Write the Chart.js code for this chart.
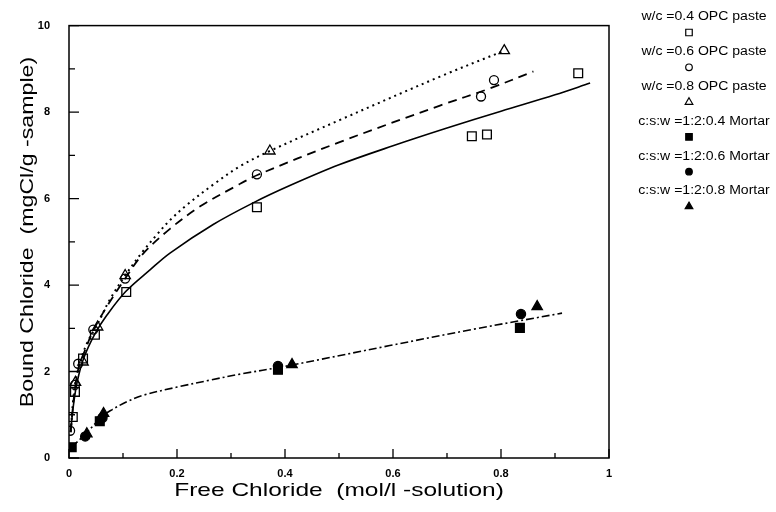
<!DOCTYPE html>
<html>
<head>
<meta charset="utf-8">
<script src="https://cdn.jsdelivr.net/npm/chart.js@4.4.1/dist/chart.umd.min.js"></script>
<style>
  html, body { margin: 0; padding: 0; background: #fff; }
  #wrap { position: relative; width: 776px; height: 512px; }
</style>
</head>
<body>
<div id="wrap"><canvas id="c" width="776" height="512"></canvas></div>
<script>
// ---------- Data ----------
const xTickValues = [0, 0.2, 0.4, 0.6, 0.8, 1];
const xMinorTicks = [0.1, 0.3, 0.5, 0.7, 0.9];
const yTickValues = [0, 2, 4, 6, 8, 10];
const yMinorTicks = [1, 3, 5, 7, 9];

const xTitle = "Free Chloride  (mol/l -solution)";
const yTitle = "Bound Chloride  (mgCl/g -sample)";

const seriesNames = [
  "w/c =0.4 OPC paste",
  "w/c =0.6 OPC paste",
  "w/c =0.8 OPC paste",
  "c:s:w =1:2:0.4 Mortar",
  "c:s:w =1:2:0.6 Mortar",
  "c:s:w =1:2:0.8 Mortar"
];

// measured points  [free chloride, bound chloride]
const paste04 = [[0.007,0.95],[0.011,1.53],[0.026,2.3],[0.048,2.85],[0.106,3.84],[0.348,5.8],[0.746,7.44],[0.774,7.48],[0.943,8.9]];
const paste06 = [[0.002,0.63],[0.011,1.69],[0.017,2.18],[0.045,2.97],[0.104,4.15],[0.348,6.56],[0.763,8.36],[0.787,8.74]];
const paste08 = [[0.012,1.75],[0.026,2.22],[0.053,3.03],[0.104,4.22],[0.372,7.1],[0.806,9.42]];
const mortar04 = [[0.005,0.25],[0.057,0.85],[0.387,2.04],[0.835,3.01]];
const mortar06 = [[0.03,0.5],[0.062,0.93],[0.387,2.13],[0.837,3.33]];
const mortar08 = [[0.033,0.56],[0.064,1.03],[0.413,2.16],[0.867,3.5]];

// fitted curves
const fit04 = [[0.003,0.6],[0.008,1.2],[0.015,1.75],[0.027,2.3],[0.048,2.87],[0.07,3.3],[0.105,3.85],[0.15,4.35],[0.187,4.74],[0.267,5.4],[0.341,5.9],[0.409,6.3],[0.5,6.78],[0.6,7.22],[0.7,7.63],[0.8,8.02],[0.9,8.4],[0.965,8.67]];
const fit06 = [[0.003,0.6],[0.01,1.5],[0.018,2.1],[0.03,2.5],[0.045,2.95],[0.07,3.5],[0.104,4.15],[0.137,4.72],[0.187,5.3],[0.243,5.82],[0.311,6.3],[0.35,6.55],[0.5,7.3],[0.687,8.15],[0.78,8.55],[0.86,8.94]];
const fit08 = [[0.003,0.6],[0.01,1.6],[0.02,2.2],[0.035,2.7],[0.053,3.1],[0.075,3.65],[0.104,4.22],[0.135,4.75],[0.163,5.17],[0.187,5.5],[0.218,5.85],[0.27,6.35],[0.317,6.75],[0.372,7.1],[0.502,7.82],[0.687,8.82],[0.806,9.42]];
const fitMortar = [[0.005,0.25],[0.03,0.55],[0.063,0.98],[0.08,1.12],[0.107,1.3],[0.137,1.45],[0.2,1.64],[0.261,1.8],[0.317,1.94],[0.4,2.12],[0.594,2.6],[0.75,2.98],[0.913,3.35]];

// ---------- Build chart ----------
const toXY = arr => arr.map(p => ({x: p[0], y: p[1]}));

function markerSet(data, style, filled, radius, label) {
  return {
    label: label,
    data: toXY(data),
    showLine: false,
    pointStyle: style,
    pointRadius: radius,
    pointHoverRadius: radius,
    pointBorderWidth: 1.3,
    pointBorderColor: '#000',
    pointBackgroundColor: filled ? '#000' : 'rgba(255,255,255,0)',
    order: 0,
    filledMarker: filled
  };
}
function curveSet(data, dash, width) {
  return {
    label: '',
    data: toXY(data),
    showLine: true,
    pointRadius: 0,
    pointHoverRadius: 0,
    borderColor: '#000',
    borderWidth: width,
    borderDash: dash,
    tension: 0.35,
    fill: false,
    order: 1,
    isCurve: true
  };
}

const datasets = [
  curveSet(fit04, [], 1.6),
  curveSet(fit06, [9, 6], 1.8),
  curveSet(fit08, [2, 4], 2),
  curveSet(fitMortar, [8, 3, 2, 3], 1.6),
  markerSet(paste04, 'rect', false, 6.2, seriesNames[0]),
  markerSet(paste06, 'circle', false, 4.5, seriesNames[1]),
  markerSet(paste08, 'triangle', false, 6, seriesNames[2]),
  markerSet(mortar04, 'rect', true, 6.2, seriesNames[3]),
  markerSet(mortar06, 'circle', true, 4.6, seriesNames[4]),
  markerSet(mortar08, 'triangle', true, 6, seriesNames[5])
];

const FONT = '"Liberation Sans", Arial, Helvetica, sans-serif';

function stretchedText(ctx, text, x, y, sx) {
  ctx.save();
  ctx.translate(x, y);
  ctx.scale(sx, 1);
  ctx.fillText(text, 0, 0);
  ctx.restore();
}

const decorPlugin = {
  id: 'decor',
  afterDraw(chart) {
    const ctx = chart.ctx;
    const a = chart.chartArea;
    const xs = chart.scales.x, ys = chart.scales.y;
    ctx.save();
    ctx.strokeStyle = '#000';
    // frame
    ctx.lineWidth = 1.5;
    ctx.strokeRect(a.left, a.top, a.right - a.left, a.bottom - a.top);
    // inward ticks
    ctx.lineWidth = 1.3;
    ctx.beginPath();
    xTickValues.forEach(v => { const p = xs.getPixelForValue(v); ctx.moveTo(p, a.bottom); ctx.lineTo(p, a.bottom - 9); });
    xMinorTicks.forEach(v => { const p = xs.getPixelForValue(v); ctx.moveTo(p, a.bottom); ctx.lineTo(p, a.bottom - 5); });
    yTickValues.forEach(v => { const p = ys.getPixelForValue(v); ctx.moveTo(a.left, p); ctx.lineTo(a.left + 10, p); });
    yMinorTicks.forEach(v => { const p = ys.getPixelForValue(v); ctx.moveTo(a.left, p); ctx.lineTo(a.left + 6, p); });
    ctx.stroke();

    // axis titles
    ctx.fillStyle = '#000';
    ctx.font = '19px ' + FONT;
    ctx.textAlign = 'center';
    ctx.textBaseline = 'middle';
    stretchedText(ctx, xTitle, 339, 491, 1.29);
    ctx.save();
    ctx.translate(28, 232);
    ctx.rotate(-Math.PI / 2);
    stretchedText(ctx, yTitle, 0, 0, 1.22);
    ctx.restore();

    // legend: label with its marker centred underneath
    const markerSets = chart.data.datasets.filter(d => !d.isCurve);
    markerSets.forEach((d, i) => {
      const ty = 17 + i * 34.8;
      const my = ty + 15.5;
      ctx.font = '12px ' + FONT;
      ctx.fillStyle = '#000';
      ctx.textAlign = 'center';
      stretchedText(ctx, d.label, 704, ty, 1.17);
      const r = d.pointStyle === 'circle' ? 3.3 : (d.pointStyle === 'rect' ? 4.6 : 4.4);
      ctx.fillStyle = d.filledMarker ? '#000' : '#fff';
      ctx.strokeStyle = '#000';
      ctx.lineWidth = 1.2;
      Chart.helpers.drawPoint(ctx, {
        pointStyle: d.pointStyle, radius: r, rotation: 0, borderWidth: 1.2
      }, 689, my);
    });
    ctx.restore();
  }
};

new Chart(document.getElementById('c'), {
  type: 'scatter',
  data: { datasets: datasets },
  options: {
    responsive: false,
    animation: false,
    devicePixelRatio: 1,
    layout: { padding: { left: 0, right: 167, top: 13, bottom: 0 } },
    plugins: { legend: { display: false }, tooltip: { enabled: false } },
    scales: {
      x: {
        type: 'linear', min: 0, max: 1,
        afterFit: s => { s.height = 54; },
        afterBuildTicks: s => { s.ticks = xTickValues.map(v => ({ value: v })); },
        grid: { display: false, drawTicks: false },
        border: { display: false },
        ticks: {
          padding: 9, color: '#000',
          font: { family: FONT, size: 11, weight: 'bold' },
          maxRotation: 0,
          callback: v => String(v)
        }
      },
      y: {
        type: 'linear', min: 0, max: 10,
        afterFit: s => { s.width = 69; },
        afterBuildTicks: s => { s.ticks = yTickValues.map(v => ({ value: v })); },
        grid: { display: false, drawTicks: false },
        border: { display: false },
        ticks: {
          padding: 19, color: '#000',
          font: { family: FONT, size: 11, weight: 'bold' },
          callback: v => String(v)
        }
      }
    }
  },
  plugins: [decorPlugin]
});
</script>
</body>
</html>
